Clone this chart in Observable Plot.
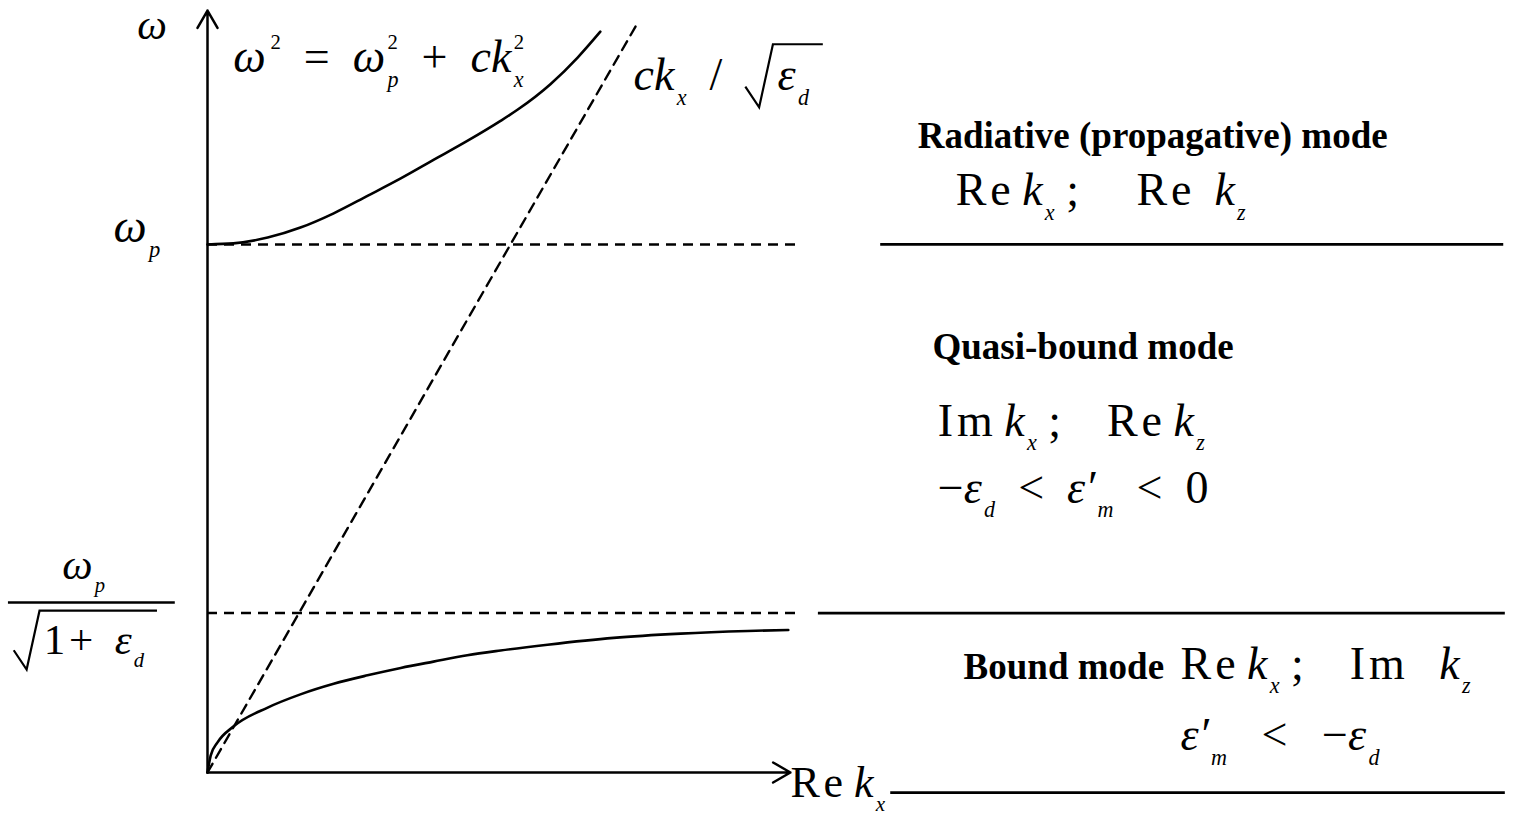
<!DOCTYPE html>
<html>
<head>
<meta charset="utf-8">
<script src="https://cdn.jsdelivr.net/npm/d3@7"></script>
<script src="https://cdn.jsdelivr.net/npm/@observablehq/plot@0.6"></script>
<style>
  body { margin: 0; background: #fff; }
</style>
</head>
<body>
<div id="chart"></div>
<script>
// Surface plasmon dispersion: ω in units of ω_p, Re k_x in matching units.

// Bound (surface) mode, tending to ω_p/√(1+ε_d)
const boundK = [0, 0.006, 0.019, 0.049, 0.114, 0.176, 0.239, 0.303, 0.366, 0.428, 0.492, 0.555, 0.644, 0.769, 0.896, 1.023, 1.100];
const boundW = [0, 0.032, 0.057, 0.087, 0.123, 0.148, 0.168, 0.184, 0.198, 0.210, 0.222, 0.231, 0.242, 0.255, 0.263, 0.268, 0.270];

// Radiative (bulk) mode above ω_p
const bulkK = [0, 0.049, 0.114, 0.176, 0.239, 0.303, 0.366, 0.428, 0.492, 0.555, 0.587, 0.650, 0.701, 0.744];
const bulkW = [1.000, 1.002, 1.013, 1.032, 1.059, 1.092, 1.125, 1.160, 1.196, 1.234, 1.255, 1.304, 1.354, 1.403];

// Light line ck_x/√ε_d
const lightK = [0, 0.816];
const lightW = [0, 1.422];

// Characteristic frequencies
const plasmaW = 1;        // ω_p
const surfaceW = 0.302;   // ω_p/√(1+ε_d)

const bound = boundK.map((k, i) => ({k, w: boundW[i]}));
const bulk = bulkK.map((k, i) => ({k, w: bulkW[i]}));
const light = lightK.map((k, i) => ({k, w: lightW[i]}));

// Layout: axes, guide extents, region dividers, labels (in k, ω units)
const axes = [
  {x1: 0, y1: 0, x2: 1.104, y2: 0},
  {x1: 0, y1: 0, x2: 0, y2: 1.443}
];
const guides = [
  {w: plasmaW, k1: 0, k2: 1.121},
  {w: surfaceW, k1: 0, k2: 1.117}
];
const dividers = [
  {w: plasmaW, k1: 1.275, k2: 2.455},
  {w: surfaceW, k1: 1.157, k2: 2.458},
  {w: -0.038, k1: 1.294, k2: 2.458}
];
const fractionBar = [{w: 0.322, k1: -0.377, k2: -0.061}];

// Math markup: _x subscript, ^x superscript, |…| upright, √{…} radical
const omegaLabel = [{k: -0.133, w: 1.390, t: "ω|"}];
const plasmaLabel = [{k: -0.178, w: 1.004, t: "ω_p"}];
const fractionLabels = [
  {k: -0.275, w: 0.367, t: "ω_p"},
  {k: -0.367, w: 0.225, t: "√{|1\u200A+  |ε_d}"}
];
const mathLabels = [
  {k: 0.049, w: 1.326, t: "ω^2|  =  |ω_p^2|  +  |ck_x^2"},
  {k: 0.807, w: 1.292, t: "ck_x|  /  |√{ε_d}"},
  {k: 1.417, w: 1.074, t: "|R\u200Ae |k_x| ;     R\u200Ae  |k_z"},
  {k: 1.383, w: 0.638, t: "|I\u200Am |k_x| ;    R\u200Ae |k_z"},
  {k: 1.383, w: 0.511, t: "|−|ε_d|  <  |ε′_m|  <  0"},
  {k: 1.843, w: 0.178, t: "|R\u200Ae |k_x| ;    I\u200Am   |k_z"},
  {k: 1.843, w: 0.042, t: "ε′_m|   <   −|ε_d"}
];
const kLabel = [{k: 1.104, w: -0.0455, t: "|R\u200Ae |k_x"}];
const modeLabels = [
  {k: 1.345, w: 1.182, t: "Radiative (propagative) mode"},
  {k: 1.373, w: 0.784, t: "Quasi-bound mode"},
  {k: 1.432, w: 0.178, t: "Bound mode"}
];

const dash = "10,7";
const label = {x: "k", y: "w", text: "t", textAnchor: "start", lineAnchor: "bottom"};

const chart = Plot.plot({
  width: 1527,
  height: 816,
  marginLeft: 207,
  marginRight: 0,
  marginTop: 0,
  marginBottom: 44,
  x: {domain: [0, 2.5], axis: null},
  y: {domain: [0, 1.462], axis: null},
  style: {fontFamily: '"Liberation Serif", "Times New Roman", serif', background: "white", color: "black"},
  marks: [
    Plot.ruleY(guides, {y: "w", x1: "k1", x2: "k2", strokeWidth: 2.5, strokeDasharray: dash}),
    Plot.line(light, {x: "k", y: "w", strokeWidth: 2.4, strokeDasharray: dash}),
    Plot.line(bound, {x: "k", y: "w", curve: "monotone-x", strokeWidth: 2.6}),
    Plot.line(bulk, {x: "k", y: "w", curve: "monotone-x", strokeWidth: 2.6}),
    Plot.arrow(axes, {x1: "x1", y1: "y1", x2: "x2", y2: "y2", strokeWidth: 2.5, headLength: 12}),
    Plot.ruleY(dividers, {y: "w", x1: "k1", x2: "k2", strokeWidth: 2.8}),
    Plot.ruleY(fractionBar, {y: "w", x1: "k1", x2: "k2", strokeWidth: 2.4}),
    Plot.text(omegaLabel, {...label, fontSize: 42}),
    Plot.text(plasmaLabel, {...label, fontSize: 47}),
    Plot.text(fractionLabels, {...label, fontSize: 43}),
    Plot.text(mathLabels, {...label, fontSize: 46}),
    Plot.text(kLabel, {...label, fontSize: 44}),
    Plot.text(modeLabels, {...label, fontSize: 37, fontWeight: "bold"})
  ]
});

document.getElementById("chart").append(chart);

// ---- small math typesetter for the text marks ----
const SVGNS = "http://www.w3.org/2000/svg";

function matchBrace(s, i) {
  let depth = 0;
  for (let j = i; j < s.length; ++j) {
    if (s[j] === "{") depth++;
    else if (s[j] === "}" && --depth === 0) return j;
  }
  return s.length;
}

function parseMath(src, upright = false, root = null, out = []) {
  let i = 0, buf = "";
  const flush = () => { if (buf) { out.push({text: buf, kind: "base", upright, root}); buf = ""; } };
  while (i < src.length) {
    const ch = src[i];
    if (ch === "|") { flush(); upright = !upright; i++; }
    else if (ch === "_" || ch === "^") {
      flush();
      let arg;
      if (src[i + 1] === "{") { const j = matchBrace(src, i + 1); arg = src.slice(i + 2, j); i = j + 1; }
      else { arg = src[i + 1]; i += 2; }
      const kind = ch === "_" ? "sub" : "sup";
      const prev = out[out.length - 1];
      const stack = !!prev && prev.kind !== "base" && prev.kind !== kind;
      out.push({text: arg, kind, stack, root});
    }
    else if (ch === "√" && src[i + 1] === "{") {
      flush();
      const j = matchBrace(src, i + 1);
      const start = out.length;
      parseMath(src.slice(i + 2, j), upright, {}, out);
      if (out[start]) out[start].rootStart = true;
      i = j + 1;
    }
    else { buf += ch; i++; }
  }
  flush();
  return out;
}

function typeset(svg) {
  svg.querySelectorAll("text").forEach(text => {
    const src = text.textContent;
    if (!/[_^|√]/.test(src)) return;
    const size = parseFloat(getComputedStyle(text).fontSize);
    const toks = parseMath(src);
    text.textContent = "";
    text.setAttributeNS("http://www.w3.org/XML/1998/namespace", "xml:space", "preserve");
    text.style.whiteSpace = "pre";
    let shift = 0;
    const spans = toks.map(tok => {
      const span = document.createElementNS(SVGNS, "tspan");
      span.textContent = tok.text;
      let target = 0, dx = 0;
      if (tok.kind === "sub") {
        target = 0.32 * size; dx = 0.05 * size;
        span.setAttribute("font-size", 0.48 * size);
        span.setAttribute("font-style", "italic");
      } else if (tok.kind === "sup") {
        target = -0.5 * size; dx = 0.1 * size;
        span.setAttribute("font-size", 0.45 * size);
        span.setAttribute("font-style", "normal");
      } else {
        span.setAttribute("font-style", tok.upright ? "normal" : "italic");
      }
      if (tok.stack) dx = 0;
      if (tok.rootStart) dx += 0.7 * size;
      if (dx) span.setAttribute("dx", dx);
      if (target !== shift) span.setAttribute("dy", target - shift);
      shift = target;
      text.appendChild(span);
      return span;
    });
    // stack sub/superscript pairs
    toks.forEach((tok, i) => {
      if (!tok.stack) return;
      const w1 = spans[i - 1].getComputedTextLength();
      const w2 = spans[i].getComputedTextLength();
      spans[i].setAttribute("dx", -w1);
      if (w1 > w2 && spans[i + 1]) {
        const d = +(spans[i + 1].getAttribute("dx") || 0);
        spans[i + 1].setAttribute("dx", d + w1 - w2);
      }
    });
    // radical signs
    let index = 0;
    const ranges = new Map();
    toks.forEach(tok => {
      const n = tok.text.length;
      if (tok.root) {
        const r = ranges.get(tok.root) || {first: index, last: index};
        r.last = index + n - 1;
        ranges.set(tok.root, r);
      }
      index += n;
    });
    ranges.forEach(({first, last}) => {
      const p0 = text.getStartPositionOfChar(first);
      const p1 = text.getEndPositionOfChar(last);
      const b = p0.y, s = size, x0 = p0.x - 0.7 * s;
      const path = document.createElementNS(SVGNS, "path");
      path.setAttribute("d", `M${x0},${b - 0.08 * s}L${x0 + 0.3 * s},${b + 0.37 * s}L${x0 + 0.6 * s},${b - 1.0 * s}H${p1.x + 0.3 * s}`);
      path.setAttribute("fill", "none");
      path.setAttribute("stroke", "currentColor");
      path.setAttribute("stroke-width", 2.2);
      const tr = text.getAttribute("transform");
      if (tr) path.setAttribute("transform", tr);
      text.parentNode.insertBefore(path, text.nextSibling);
    });
  });
}

typeset(chart);
</script>
</body>
</html>
